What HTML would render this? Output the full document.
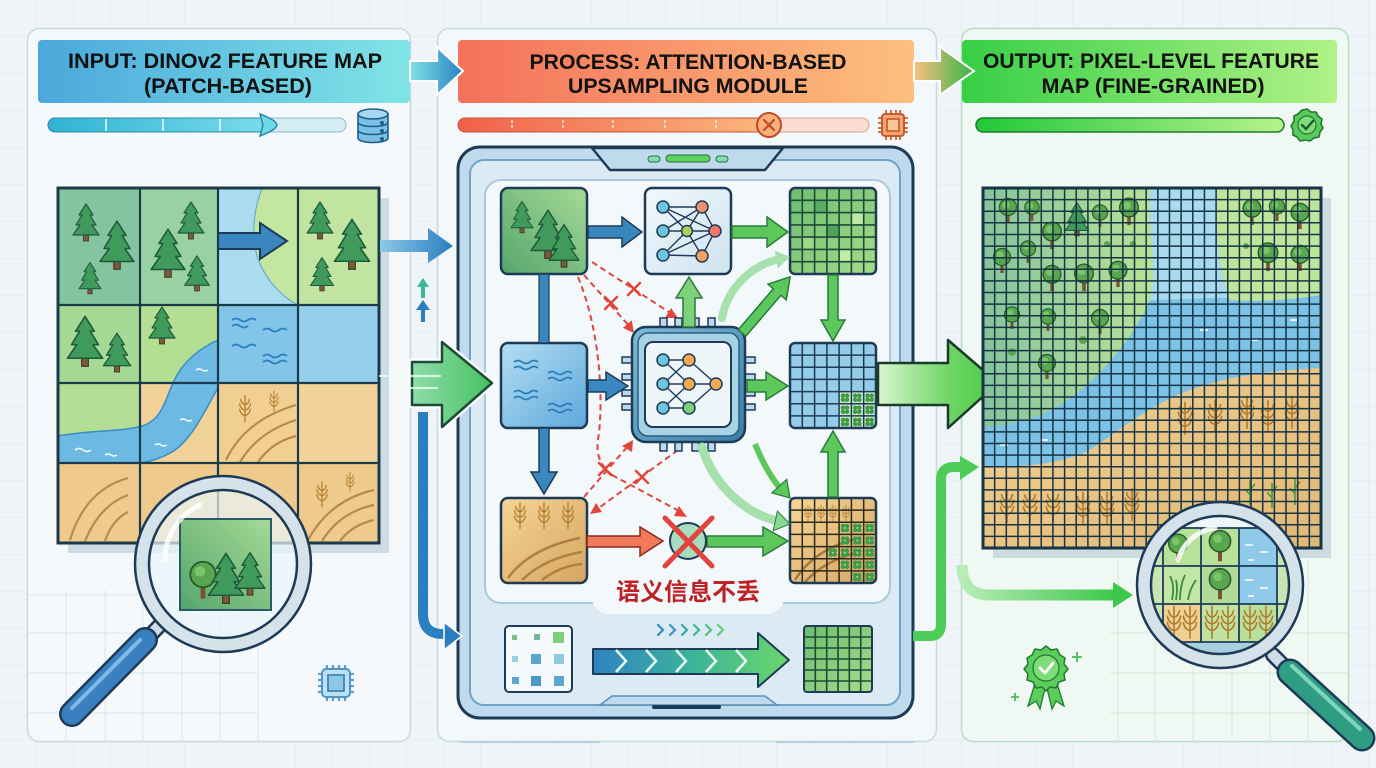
<!DOCTYPE html>
<html><head><meta charset="utf-8">
<style>html,body{margin:0;padding:0;background:#edf3f6;}svg{display:block}</style></head>
<body>
<svg width="1376" height="768" viewBox="0 0 1376 768" xmlns="http://www.w3.org/2000/svg" font-family="'Liberation Sans','Noto Sans CJK SC',sans-serif">
<defs>
 <pattern id="bggrid" width="37" height="37" patternUnits="userSpaceOnUse"><path d="M37,0 V37 M0,37 H37" stroke="#dce8ee" stroke-width="1" fill="none"/></pattern>
 <linearGradient id="hdrL" x1="0" x2="1"><stop offset="0" stop-color="#4aa8dc"/><stop offset="1" stop-color="#80e4e6"/></linearGradient>
 <linearGradient id="hdrM" x1="0" x2="1"><stop offset="0" stop-color="#f4715a"/><stop offset="1" stop-color="#fdbf7e"/></linearGradient>
 <linearGradient id="hdrR" x1="0" x2="1"><stop offset="0" stop-color="#37cf45"/><stop offset="1" stop-color="#b0f286"/></linearGradient>
 <linearGradient id="arLM" x1="0" x2="1"><stop offset="0" stop-color="#80e0e6"/><stop offset="1" stop-color="#2a82c2"/></linearGradient>
 <linearGradient id="arMR" x1="0" x2="1"><stop offset="0" stop-color="#fdbf7e"/><stop offset="1" stop-color="#32b54a"/></linearGradient>
 <linearGradient id="pbL" x1="0" x2="1"><stop offset="0" stop-color="#2fb2d4"/><stop offset="1" stop-color="#7bdceb"/></linearGradient>
 <linearGradient id="pbM" x1="0" x2="1"><stop offset="0" stop-color="#f0604a"/><stop offset="1" stop-color="#fcb87c"/></linearGradient>
 <linearGradient id="pbR" x1="0" x2="1"><stop offset="0" stop-color="#22c838"/><stop offset="1" stop-color="#b8f28c"/></linearGradient>
 <linearGradient id="forestG" x1="0" y1="1" x2="1" y2="0"><stop offset="0" stop-color="#55a56c"/><stop offset="1" stop-color="#a6da96"/></linearGradient>
 <linearGradient id="waterG" x1="0" y1="0" x2="1" y2="1"><stop offset="0" stop-color="#b4def2"/><stop offset="1" stop-color="#5ea8dc"/></linearGradient>
 <linearGradient id="wheatG" x1="0" y1="0" x2="1" y2="1"><stop offset="0" stop-color="#f6d596"/><stop offset="1" stop-color="#d6a560"/></linearGradient>
 <linearGradient id="nnG" x1="0" y1="0" x2="1" y2="1"><stop offset="0" stop-color="#f2f8fc"/><stop offset="1" stop-color="#cfe3ef"/></linearGradient>
 <linearGradient id="chipG" x1="0" y1="0" x2="1" y2="1"><stop offset="0" stop-color="#7dbcd8"/><stop offset="1" stop-color="#3a7ea8"/></linearGradient>
 <linearGradient id="bigG" x1="0" x2="1"><stop offset="0" stop-color="#8fdca8"/><stop offset="1" stop-color="#46c262"/></linearGradient>
 <linearGradient id="bigR" x1="0" x2="1"><stop offset="0" stop-color="#d8f6cf"/><stop offset="0.6" stop-color="#6ed565"/><stop offset="1" stop-color="#46cc46"/></linearGradient>
 <linearGradient id="blueA" x1="0" x2="1"><stop offset="0" stop-color="#8cc8e6"/><stop offset="1" stop-color="#2a7fc0"/></linearGradient>
 <linearGradient id="progA" x1="0" x2="1"><stop offset="0" stop-color="#2f82c2"/><stop offset="0.5" stop-color="#3cb39a"/><stop offset="1" stop-color="#6ad66a"/></linearGradient>
 <linearGradient id="lowG" x1="0" x2="1"><stop offset="0" stop-color="#b8ecb8"/><stop offset="1" stop-color="#3cc84a"/></linearGradient>
 <linearGradient id="speed" x1="0" x2="1"><stop offset="0" stop-color="#3cc07a" stop-opacity="0"/><stop offset="1" stop-color="#3cbf6a"/></linearGradient>
 <linearGradient id="rgGreen" x1="0" x2="1"><stop offset="0" stop-color="#86c49c"/><stop offset="1" stop-color="#b8e196"/></linearGradient>
 <linearGradient id="rgTan" x1="0" y1="0" x2="1" y2="1"><stop offset="0" stop-color="#f0d092"/><stop offset="1" stop-color="#e2b877"/></linearGradient>
 <linearGradient id="greenCell" x1="0" y1="0" x2="1" y2="1"><stop offset="0" stop-color="#6cbd6e"/><stop offset="1" stop-color="#a6dc8a"/></linearGradient>
 <clipPath id="lensL"><circle cx="223" cy="564" r="73"/></clipPath>
 <clipPath id="lensR"><circle cx="1220" cy="585" r="68"/></clipPath>
 <clipPath id="rgClip"><rect x="983" y="188" width="338" height="360"/></clipPath>
 <clipPath id="lgClip"><rect x="58" y="188" width="321" height="355"/></clipPath>
 <g id="pine"><rect x="-2.5" y="-5" width="5" height="6" fill="#7a5a3a" stroke="#3d3020" stroke-width="0.8"/><path d="M0,-36 L-7,-25 L-4,-25 L-10,-15 L-6,-15 L-13,-5 L13,-5 L6,-15 L10,-15 L4,-25 L7,-25 Z" fill="#3f9a5c" stroke="#1f5a3c" stroke-width="1.2" stroke-linejoin="round"/></g>
 <g id="rtree"><rect x="-1.6" y="-10" width="3.2" height="11" fill="#7a5230"/><circle cx="0" cy="-15" r="8.5" fill="#58a64e" stroke="#235a2a" stroke-width="1.2"/><circle cx="-2" cy="-17" r="3.5" fill="#7cc46a"/></g>
 <g id="wheat" fill="none" stroke="#b07a2a" stroke-width="1.4" stroke-linecap="round"><path d="M0,2 V-24"/><path d="M0,-5 q-5,-1 -6,-7 M0,-5 q5,-1 6,-7 M0,-11 q-5,-1 -6,-7 M0,-11 q5,-1 6,-7 M0,-17 q-4,-1 -5,-6 M0,-17 q4,-1 5,-6 M0,-24 l0,-3"/></g>
 <g id="clover"><circle cx="-2" cy="-2" r="2.3" fill="#3f9a4a"/><circle cx="2" cy="-2" r="2.3" fill="#3f9a4a"/><circle cx="-2" cy="2" r="2.3" fill="#3f9a4a"/><circle cx="2" cy="2" r="2.3" fill="#3f9a4a"/><circle cx="0" cy="0" r="1" fill="#a8e08a"/></g>
 <g id="rx"><path d="M-6,-6 L6,6 M6,-6 L-6,6" stroke="#e0463c" stroke-width="2.5" stroke-linecap="round"/></g>
</defs>

<!-- background -->
<rect width="1376" height="768" fill="#eef4f7"/>
<rect width="1376" height="768" fill="url(#bggrid)"/>

<!-- panels -->
<rect x="27.5" y="28.5" width="383" height="713" rx="12" fill="#f5f9fb" stroke="#c7d8e1" stroke-width="1.5"/>
<rect x="437.5" y="28.5" width="499" height="713" rx="12" fill="#f3f8fa" stroke="#c7d8e1" stroke-width="1.5"/>
<rect x="961.5" y="28.5" width="387" height="713" rx="12" fill="#f0f8f3" stroke="#b9dcc6" stroke-width="1.5"/>

<!-- faint grids inside panels -->
<path d="M66,590 V742 M105,590 V742 M143,590 V742 M182,590 V742 M220,590 V742 M258,590 V742 M28,595 H258 M28,633 H258 M28,673 H258 M28,713 H258" stroke="#d9e6ed" stroke-width="1"/>
<path d="M1118,560 V742 M1155,560 V742 M1193,560 V742 M1232,560 V742 M1270,560 V742 M1308,560 V742 M1110,633 H1348 M1110,673 H1348 M1110,713 H1348" stroke="#d3e7da" stroke-width="1"/>
<path d="M460,742 H600 M776,742 H915" stroke="#b8cfdc" stroke-width="2"/>

<!-- HEADERS -->
<rect x="38" y="40" width="372" height="63" rx="4" fill="url(#hdrL)"/>
<text x="225" y="68" text-anchor="middle" font-size="21" font-weight="700" fill="#111" textLength="314" lengthAdjust="spacingAndGlyphs">INPUT: DINOv2 FEATURE MAP</text>
<text x="228" y="93" text-anchor="middle" font-size="21" font-weight="700" fill="#111" textLength="168" lengthAdjust="spacingAndGlyphs">(PATCH-BASED)</text>

<rect x="458" y="40" width="456" height="63" rx="4" fill="url(#hdrM)"/>
<text x="688" y="69" text-anchor="middle" font-size="21" font-weight="700" fill="#111" textLength="317" lengthAdjust="spacingAndGlyphs">PROCESS: ATTENTION-BASED</text>
<text x="688" y="93" text-anchor="middle" font-size="21" font-weight="700" fill="#111" textLength="240" lengthAdjust="spacingAndGlyphs">UPSAMPLING MODULE</text>

<rect x="962" y="40" width="375" height="63" rx="4" fill="url(#hdrR)"/>
<text x="1151" y="68" text-anchor="middle" font-size="21" font-weight="700" fill="#111" textLength="336" lengthAdjust="spacingAndGlyphs">OUTPUT: PIXEL-LEVEL FEATURE</text>
<text x="1153" y="93" text-anchor="middle" font-size="21" font-weight="700" fill="#111" textLength="223" lengthAdjust="spacingAndGlyphs">MAP (FINE-GRAINED)</text>

<!-- header arrows -->
<path d="M410,61 H437 V47 L463,71 L437,95 V81 H410 Z" fill="url(#arLM)" stroke="#ffffff" stroke-width="2"/>
<path d="M914,61 H940 V47 L974,71 L940,95 V81 H914 Z" fill="url(#arMR)" stroke="#ffffff" stroke-width="2"/>

<!-- progress bars -->
<rect x="48" y="118" width="298" height="14" rx="7" fill="#d5ecf3" stroke="#8cbccd" stroke-width="1"/>
<rect x="48" y="118" width="222" height="14" rx="7" fill="url(#pbL)" stroke="#2a8aa8" stroke-width="1"/>
<path d="M106,119 V131 M163,119 V131 M220,119 V131" stroke="#e8fbff" stroke-width="1.5"/>
<path d="M260,114 C270,118 276,121 277,125 C276,129 270,132 260,136 L263,125 Z" fill="#6fd8e8" stroke="#2a8aa8" stroke-width="1.5"/>
<g transform="translate(373,110)" stroke="#1d5f8a" stroke-width="1.6" fill="#7cc0e4">
 <path d="M-15,4 V28 C-15,34 15,34 15,28 V4"/>
 <ellipse cx="0" cy="4" rx="15" ry="5" fill="#a8d8f0"/>
 <path d="M-15,12 C-15,18 15,18 15,12 M-15,20 C-15,26 15,26 15,20" fill="none"/>
 <circle cx="9" cy="13" r="1.2" fill="#1d5f8a"/><circle cx="9" cy="21" r="1.2" fill="#1d5f8a"/><circle cx="9" cy="29" r="1.2" fill="#1d5f8a"/>
</g>

<rect x="458" y="118" width="411" height="14" rx="7" fill="#f9ddd0" stroke="#d9a08a" stroke-width="1"/>
<rect x="458" y="118" width="312" height="14" rx="7" fill="url(#pbM)" stroke="#c8553a" stroke-width="1"/>
<path d="M512,120 V130 M563,120 V130 M613,120 V130 M665,120 V130 M716,120 V130" stroke="#ffe8dc" stroke-width="1.5" stroke-dasharray="3 2"/>
<circle cx="769" cy="125" r="12" fill="#fbb07c" stroke="#c04a2a" stroke-width="2"/>
<path d="M764,120 L774,130 M774,120 L764,130" stroke="#c04a2a" stroke-width="2.2" stroke-linecap="round"/>
<g transform="translate(893,125)">
 <path d="M-7,-15 V-11 M-2,-15 V-11 M3,-15 V-11 M7,-15 V-11 M-7,11 V15 M-2,11 V15 M3,11 V15 M7,11 V15 M-15,-7 H-11 M-15,-2 H-11 M-15,3 H-11 M-15,7 H-11 M11,-7 H15 M11,-2 H15 M11,3 H15 M11,7 H15" stroke="#d0602e" stroke-width="1.8"/>
 <rect x="-11" y="-11" width="22" height="22" rx="3" fill="#f6a570" stroke="#c0502a" stroke-width="1.8"/>
 <rect x="-6" y="-6" width="12" height="12" fill="#f9c69a" stroke="#c0502a" stroke-width="1.5"/>
</g>

<rect x="976" y="118" width="308" height="14" rx="7" fill="url(#pbR)" stroke="#1e7a30" stroke-width="1.5"/>
<g transform="translate(1307,125)">
 <path d="M0,-16 L4,-13 L9,-13 L11,-9 L15,-6 L14,-1 L16,3 L13,7 L12,12 L7,13 L3,16 L-2,15 L-7,16 L-10,12 L-14,10 L-14,5 L-16,1 L-13,-4 L-13,-9 L-9,-11 L-5,-15 Z" fill="#58c95a" stroke="#237a33" stroke-width="1.6" stroke-linejoin="round"/>
 <circle r="9" fill="#7fdc78" stroke="#237a33" stroke-width="1.2"/>
 <path d="M-5,0 L-1,4 L6,-4" fill="none" stroke="#1d5a2a" stroke-width="2.4" stroke-linecap="round" stroke-linejoin="round"/>
</g>

<!-- LEFT GRID -->
<rect x="68" y="198" width="321" height="355" fill="#cddce5"/>
<g clip-path="url(#lgClip)">
 <rect x="58" y="188" width="82" height="117" fill="#86c3a0"/>
 <rect x="140" y="188" width="78" height="117" fill="#9ad1a2"/>
 <rect x="218" y="188" width="80" height="117" fill="#a9dcef"/>
 <path d="M262,188 C252,215 250,245 262,268 C272,288 288,300 298,305 L298,188 Z" fill="#c3e6a0" stroke="#6aa9c9" stroke-width="1.2"/>
 <rect x="298" y="188" width="81" height="117" fill="#c1e5a1"/>
 <rect x="58" y="305" width="82" height="78" fill="#a6d993"/>
 <rect x="140" y="305" width="78" height="78" fill="#b4df93"/>
 <rect x="218" y="305" width="80" height="78" fill="#82c5e8"/>
 <rect x="298" y="305" width="81" height="78" fill="#96d1ec"/>
 <rect x="58" y="383" width="82" height="80" fill="#b3de94"/>
 <rect x="140" y="383" width="78" height="80" fill="#f0d197"/>
 <rect x="218" y="383" width="80" height="80" fill="#f1cf93"/>
 <rect x="298" y="383" width="81" height="80" fill="#f2d49b"/>
 <rect x="58" y="463" width="321" height="80" fill="#eecb8d"/>
 <path d="M58,436 C90,430 120,432 142,426 C162,420 165,400 173,383 C182,362 200,348 218,340 L218,388 C205,410 192,440 172,452 C158,460 148,462 140,463 L58,463 Z" fill="#6cb9e4" stroke="#3a8cc4" stroke-width="1.5"/>
 <path d="M75,450 q4,-3 8,0 t8,0 M105,455 q3,-2 6,0 t6,0 M155,445 q3,-2 6,0 t6,0 M180,420 q3,-2 6,0 t6,0 M196,370 q3,-2 6,0 t6,0" stroke="#e8f6ff" stroke-width="1.6" fill="none"/>
 <g stroke="#2a7fbf" stroke-width="1.8" fill="none">
  <path d="M232,320 q4,-3 8,0 t8,0 t8,0"/><path d="M263,330 q4,-3 8,0 t8,0 t8,0"/>
  <path d="M232,346 q4,-3 8,0 t8,0 t8,0"/><path d="M263,356 q4,-3 8,0 t8,0 t8,0"/>
  <path d="M232,326 q4,-3 8,0 t8,0"/><path d="M263,362 q4,-3 8,0 t8,0 t8,0"/>
 </g>
 <g stroke="#b98a4a" stroke-width="2.2" fill="none">
  <path d="M226,460 Q245,420 296,405"/><path d="M240,462 Q258,432 296,420"/><path d="M258,462 Q272,442 296,436"/>
  <path d="M70,540 Q85,490 128,478"/><path d="M85,541 Q100,505 128,495"/><path d="M105,541 Q112,520 128,512"/>
  <path d="M308,540 Q330,500 374,490"/><path d="M322,541 Q340,512 374,505"/><path d="M340,541 Q352,525 374,520"/>
 </g>
 <use href="#wheat" transform="translate(245,420) scale(0.9)"/>
 <use href="#wheat" transform="translate(274,410) scale(0.7)"/>
 <use href="#wheat" transform="translate(322,505) scale(0.85)"/>
 <use href="#wheat" transform="translate(350,490) scale(0.65)"/>
 <use href="#pine" transform="translate(86,240)"/>
 <use href="#pine" transform="translate(117,268) scale(1.3)"/>
 <use href="#pine" transform="translate(90,293) scale(0.85)"/>
 <use href="#pine" transform="translate(191,238)"/>
 <use href="#pine" transform="translate(168,276) scale(1.3)"/>
 <use href="#pine" transform="translate(197,290) scale(0.95)"/>
 <use href="#pine" transform="translate(320,238)"/>
 <use href="#pine" transform="translate(352,268) scale(1.35)"/>
 <use href="#pine" transform="translate(322,290) scale(0.9)"/>
 <use href="#pine" transform="translate(85,365) scale(1.35)"/>
 <use href="#pine" transform="translate(117,371) scale(1.05)"/>
 <use href="#pine" transform="translate(162,343)"/>
 <path d="M218,233 H260 V223 L287,241 L260,259 V249 H218 Z" fill="#3a86c0" stroke="#1d3b57" stroke-width="2"/>
</g>
<path d="M58,305 H379 M58,383 H379 M58,463 H379 M140,188 V543 M218,188 V543 M298,188 V543" stroke="#1c3a4a" stroke-width="2.2"/>
<rect x="58" y="188" width="321" height="355" fill="none" stroke="#1c3a4a" stroke-width="3"/>

<!-- left magnifier -->
<line x1="163" y1="622" x2="140" y2="646" stroke="#1d3b57" stroke-width="16" stroke-linecap="round"/>
<line x1="163" y1="622" x2="140" y2="646" stroke="#cfdce6" stroke-width="11" stroke-linecap="round"/>
<line x1="145" y1="640" x2="72" y2="714" stroke="#1d3b57" stroke-width="26" stroke-linecap="round"/>
<line x1="145" y1="640" x2="72" y2="714" stroke="#3a7fc0" stroke-width="21" stroke-linecap="round"/>
<line x1="140" y1="640" x2="72" y2="708" stroke="#7fb8e6" stroke-width="4" stroke-linecap="round"/>
<circle cx="223" cy="564" r="73" fill="#eaf5f9" fill-opacity="0.7"/>
<g clip-path="url(#lensL)">
 <rect x="180" y="519" width="91" height="91" fill="url(#forestG)" stroke="#2a5a6a" stroke-width="2"/>
 <use href="#rtree" transform="translate(203,597) scale(1.5)"/>
 <use href="#pine" transform="translate(226,602) scale(1.35)"/>
 <use href="#pine" transform="translate(250,594) scale(1.15)"/>
</g>
<circle cx="223" cy="564" r="81" fill="none" stroke="#d5e2ea" stroke-width="14"/>
<circle cx="223" cy="564" r="88" fill="none" stroke="#1d3b57" stroke-width="2.5"/>
<circle cx="223" cy="564" r="74" fill="none" stroke="#1d3b57" stroke-width="2.5"/>
<path d="M165,560 A60,60 0 0 1 200,505" stroke="#ffffff" stroke-width="5" fill="none" stroke-opacity="0.8" stroke-linecap="round"/>

<!-- left chip icon -->
<g transform="translate(336,683)">
 <path d="M-9,-18 V-13 M-3,-18 V-13 M3,-18 V-13 M9,-18 V-13 M-9,13 V18 M-3,13 V18 M3,13 V18 M9,13 V18 M-18,-9 H-13 M-18,-3 H-13 M-18,3 H-13 M-18,9 H-13 M13,-9 H18 M13,-3 H18 M13,3 H18 M13,9 H18" stroke="#5a9ccb" stroke-width="2.2"/>
 <rect x="-14" y="-14" width="28" height="28" rx="4" fill="#bfe0f2" stroke="#4f95c5" stroke-width="2"/>
 <rect x="-8" y="-8" width="16" height="16" fill="#8fc8e8" stroke="#3d85b8" stroke-width="1.8"/>
</g>

<!-- small arrows between left & middle -->
<path d="M423,278 L417,287 H421 V298 H425 V287 H429 Z" fill="#3cb89a"/>
<path d="M423,300 L416,310 H421 V322 H425 V310 H430 Z" fill="#2a7fc0"/>

<!-- TABLET -->
<rect x="458" y="147" width="455" height="571" rx="22" fill="#bfdaec" stroke="#1d3b57" stroke-width="3"/>
<rect x="470" y="160" width="430" height="545" rx="14" fill="#dceaf3" stroke="#6fa3c8" stroke-width="2"/>
<path d="M592,148 L610,170 H765 L783,148 Z" fill="#bfdaec" stroke="#1d3b57" stroke-width="2.5" stroke-linejoin="round"/>
<rect x="648" y="156" width="12" height="6" rx="3" fill="#7fe0b0" stroke="#2a6a5a" stroke-width="1"/>
<rect x="666" y="155" width="44" height="7" rx="3.5" fill="#5dd35d" stroke="#2a6a3a" stroke-width="1"/>
<rect x="716" y="156" width="12" height="6" rx="3" fill="#7fe0b0" stroke="#2a6a5a" stroke-width="1"/>
<path d="M600,705 L612,696 H765 L777,705 Z" fill="#bfdaec" stroke="#5b8fb5" stroke-width="1.5"/>
<rect x="652" y="705" width="69" height="4" rx="2" fill="#1d3b57"/>
<rect x="485" y="180" width="405" height="423" rx="16" fill="#f3f8fb" stroke="#a9c9dc" stroke-width="2"/>
<rect x="592" y="560" width="192" height="54" rx="16" fill="#f3f8fb"/>

<!-- arrows entering tablet from left (drawn on top) -->
<path d="M380,240 H428 V228 L453,246 L428,263 V252 H380 Z" fill="url(#blueA)"/>
<g stroke="url(#speed)" stroke-width="3" stroke-linecap="round">
 <path d="M350,363 H430"/><path d="M360,373 H440"/><path d="M345,383 H440"/><path d="M355,393 H440"/><path d="M348,404 H430"/>
</g>
<path d="M412,362 H442 V342 L492,383 L442,427 V405 H412 Z" fill="none" stroke="#ffffff" stroke-width="7" stroke-linejoin="round"/>
<path d="M412,362 H442 V342 L492,383 L442,427 V405 H412 Z" fill="url(#bigG)" stroke="#1d4a3a" stroke-width="2.5" stroke-linejoin="round"/>
<path d="M380,376 H440 M390,388 H437" stroke="#e8fff0" stroke-width="2.2" stroke-linecap="round" opacity="0.8"/>
<path d="M423,412 V614 Q423,634 443,634 H448" fill="none" stroke="#2a7fc0" stroke-width="10"/>
<path d="M444,622 L462,636 L444,650 Z" fill="#2a7fc0" stroke="#ffffff" stroke-width="1.5"/>

<!-- forest tile -->
<rect x="501" y="188" width="86" height="86" rx="7" fill="url(#forestG)" stroke="#1d3b57" stroke-width="2.5"/>
<use href="#pine" transform="translate(522,232) scale(0.85)"/>
<use href="#pine" transform="translate(548,257) scale(1.3)"/>
<use href="#pine" transform="translate(564,266) scale(1.15)"/>
<!-- water tile -->
<rect x="501" y="343" width="86" height="85" rx="7" fill="url(#waterG)" stroke="#1d3b57" stroke-width="2.5"/>
<g stroke="#2a7fbf" stroke-width="1.8" fill="none">
 <path d="M514,362 q4,-3 8,0 t8,0 t8,0"/><path d="M514,368 q4,-3 8,0 t8,0 t8,0"/>
 <path d="M548,373 q4,-3 8,0 t8,0 t8,0"/><path d="M548,379 q4,-3 8,0 t8,0 t8,0"/>
 <path d="M514,392 q4,-3 8,0 t8,0 t8,0"/><path d="M514,398 q4,-3 8,0 t8,0 t8,0"/>
 <path d="M548,405 q4,-3 8,0 t8,0 t8,0"/><path d="M548,411 q4,-3 8,0 t8,0 t8,0"/>
</g>
<!-- wheat tile -->
<rect x="501" y="498" width="86" height="85" rx="7" fill="url(#wheatG)" stroke="#1d3b57" stroke-width="2.5"/>
<use href="#wheat" transform="translate(520,527) scale(0.9)"/>
<use href="#wheat" transform="translate(544,527) scale(0.9)"/>
<use href="#wheat" transform="translate(568,527) scale(0.9)"/>
<g stroke="#b08040" stroke-width="2.5" fill="none">
 <path d="M508,578 Q530,548 580,538"/><path d="M522,580 Q545,558 582,552"/><path d="M542,580 Q560,566 582,564"/>
</g>

<!-- NN box -->
<rect x="645" y="188" width="86" height="86" rx="7" fill="url(#nnG)" stroke="#1d3b57" stroke-width="2.5"/>
<g stroke="#1d3b57" stroke-width="1.4">
 <path d="M663,207 L687,231 M663,231 L687,231 M663,255 L687,231 M663,207 L702,207 M663,207 L715,231 M663,231 L702,207 M663,255 L702,256 M663,255 L715,231 M687,231 L702,207 M687,231 L715,231 M687,231 L702,256 M702,207 L715,231 M702,256 L715,231"/>
</g>
<g stroke="#1d3b57" stroke-width="1.5">
 <circle cx="663" cy="207" r="6" fill="#6cc4e0"/><circle cx="663" cy="231" r="6" fill="#6cc4e0"/><circle cx="663" cy="255" r="6" fill="#6cc4e0"/>
 <circle cx="687" cy="231" r="5.5" fill="#a8d060"/>
 <circle cx="702" cy="207" r="6" fill="#f0906a"/><circle cx="715" cy="231" r="6" fill="#f07868"/><circle cx="702" cy="256" r="6" fill="#f4a060"/>
</g>

<!-- Green grid top right -->
<rect x="790" y="188" width="86" height="86" rx="5" fill="url(#greenCell)"/>
<rect x="814.6" y="200.3" width="12.3" height="12.3" fill="#5aae62"/><rect x="851.4" y="212.6" width="12.3" height="12.3" fill="#bfe8a0"/><rect x="802.3" y="237.1" width="12.3" height="12.3" fill="#9ed884"/><rect x="839.1" y="249.4" width="12.3" height="12.3" fill="#c4ec9e"/><rect x="826.9" y="224.9" width="12.3" height="12.3" fill="#4fa25a"/>
<path d="M802.3,188 V274 M814.6,188 V274 M826.9,188 V274 M839.1,188 V274 M851.4,188 V274 M863.7,188 V274 M790,200.3 H876 M790,212.6 H876 M790,224.9 H876 M790,237.1 H876 M790,249.4 H876 M790,261.7 H876" stroke="#1d4a3a" stroke-width="1.6"/>
<rect x="790" y="188" width="86" height="86" rx="5" fill="none" stroke="#1d3b57" stroke-width="2.5"/>

<!-- Blue grid -->
<rect x="790" y="343" width="86" height="85" rx="5" fill="#95cde8"/>
<rect x="839" y="391.6" width="37" height="36.4" fill="#cfe9c8"/>
<use href="#clover" transform="translate(845,397.7)"/><use href="#clover" transform="translate(857.3,397.7)"/><use href="#clover" transform="translate(869.6,397.7)"/>
<use href="#clover" transform="translate(845,409.8)"/><use href="#clover" transform="translate(857.3,409.8)"/><use href="#clover" transform="translate(869.6,409.8)"/>
<use href="#clover" transform="translate(845,422)"/><use href="#clover" transform="translate(857.3,422)"/><use href="#clover" transform="translate(869.6,422)"/>
<path d="M802.3,343 V428 M814.6,343 V428 M826.9,343 V428 M839.1,343 V428 M851.4,343 V428 M863.7,343 V428 M790,355.1 H876 M790,367.3 H876 M790,379.4 H876 M790,391.6 H876 M790,403.7 H876 M790,415.9 H876" stroke="#1d3b57" stroke-width="1.5"/>
<rect x="790" y="343" width="86" height="85" rx="5" fill="none" stroke="#1d3b57" stroke-width="2.5"/>

<!-- Mixed grid -->
<rect x="790" y="498" width="86" height="85" rx="5" fill="url(#wheatG)"/>
<path d="M795,580 Q815,548 860,538 M805,582 Q825,560 860,552" stroke="#a87a3a" stroke-width="2.5" fill="none"/>
<use href="#wheat" transform="translate(808,520) scale(0.55)"/><use href="#wheat" transform="translate(821,520) scale(0.55)"/><use href="#wheat" transform="translate(833,520) scale(0.55)"/><use href="#wheat" transform="translate(846,520) scale(0.55)"/>
<use href="#clover" transform="translate(845,528)"/><use href="#clover" transform="translate(857.3,528)"/><use href="#clover" transform="translate(869.6,528)"/>
<use href="#clover" transform="translate(845,540.5)"/><use href="#clover" transform="translate(857.3,540.5)"/><use href="#clover" transform="translate(869.6,540.5)"/>
<use href="#clover" transform="translate(832.7,552.6)"/><use href="#clover" transform="translate(845,552.6)"/><use href="#clover" transform="translate(857.3,552.6)"/><use href="#clover" transform="translate(869.6,552.6)"/>
<use href="#clover" transform="translate(845,564.8)"/><use href="#clover" transform="translate(857.3,564.8)"/><use href="#clover" transform="translate(869.6,564.8)"/>
<use href="#clover" transform="translate(857.3,577)"/><use href="#clover" transform="translate(869.6,577)"/>
<path d="M802.3,498 V583 M814.6,498 V583 M826.9,498 V583 M839.1,498 V583 M851.4,498 V583 M863.7,498 V583 M790,510.1 H876 M790,522.3 H876 M790,534.4 H876 M790,546.6 H876 M790,558.7 H876 M790,570.9 H876" stroke="#2a2a1a" stroke-width="1.5"/>
<rect x="790" y="498" width="86" height="85" rx="5" fill="none" stroke="#1d3b57" stroke-width="2.5"/>

<!-- red dashed lines -->
<g stroke="#e0463c" stroke-width="2" stroke-dasharray="6 4" fill="none">
 <path d="M592,262 L672,314"/>
 <path d="M584,275 L630,327"/>
 <path d="M578,277 C600,330 604,400 598,440 C596,455 600,465 612,475"/>
 <path d="M612,475 L681,512"/>
 <path d="M678,450 L596,510"/>
 <path d="M584,497 L628,446"/>
</g>
<path d="M678,318 L665,318 L671,308 Z" fill="#e0463c"/>
<path d="M634,333 L624,326 L634,320 Z" fill="#e0463c" transform="rotate(-10 634 333)"/>
<path d="M687,517 L674,516 L679,506 Z" fill="#e0463c"/>
<path d="M590,514 L596,503 L602,512 Z" fill="#e0463c"/>
<path d="M633,440 L632,452 L622,446 Z" fill="#e0463c"/>
<use href="#rx" transform="translate(634,289)"/>
<use href="#rx" transform="translate(611,303)"/>
<use href="#rx" transform="translate(605,469)"/>
<use href="#rx" transform="translate(642,477)"/>

<!-- CHIP -->
<g stroke="#1d3b57" stroke-width="1.5" fill="#bfdaec">
 <rect x="660" y="318" width="7" height="10"/><rect x="675" y="318" width="7" height="10"/><rect x="692" y="318" width="7" height="10"/><rect x="708" y="318" width="7" height="10"/>
 <rect x="660" y="441" width="7" height="10"/><rect x="675" y="441" width="7" height="10"/><rect x="692" y="441" width="7" height="10"/><rect x="708" y="441" width="7" height="10"/>
 <rect x="622" y="357" width="11" height="6"/><rect x="622" y="374" width="11" height="6"/><rect x="622" y="390" width="11" height="6"/><rect x="622" y="404" width="11" height="6"/>
 <rect x="744" y="357" width="11" height="6"/><rect x="744" y="374" width="11" height="6"/><rect x="744" y="390" width="11" height="6"/><rect x="744" y="404" width="11" height="6"/>
</g>
<rect x="632" y="327" width="113" height="115" rx="14" fill="url(#chipG)" stroke="#1d3b57" stroke-width="2.5"/>
<rect x="638" y="333" width="101" height="103" rx="10" fill="#a8d2e6" stroke="#2a5f80" stroke-width="1.5"/>
<rect x="645" y="342" width="86" height="85" rx="8" fill="#eef6fa" stroke="#1d3b57" stroke-width="2"/>
<g stroke="#1d3b57" stroke-width="1.4">
 <path d="M663,360 L689,360 M663,360 L689,384 M663,384 L689,360 M663,384 L689,384 M663,384 L689,408 M663,408 L689,384 M663,408 L689,408 M689,360 L716,384 M689,384 L716,384 M689,408 L716,384"/>
</g>
<g stroke="#1d3b57" stroke-width="1.5">
 <circle cx="663" cy="360" r="6" fill="#6cc4e0"/><circle cx="663" cy="384" r="6" fill="#6cc4e0"/><circle cx="663" cy="408" r="6" fill="#6cc4e0"/>
 <circle cx="689" cy="360" r="6" fill="#f4a850"/><circle cx="689" cy="384" r="6" fill="#f4a850"/><circle cx="689" cy="408" r="6" fill="#7cd07a"/>
 <circle cx="716" cy="384" r="6" fill="#f4a850"/>
</g>

<!-- arrows in tablet -->
<rect x="539" y="274" width="10" height="69" fill="#3a86c0" stroke="#1d3b57" stroke-width="1.2"/>
<path d="M588,226 H622 V217 L642,232 L622,247 V238 H588 Z" fill="#3a86c0" stroke="#1d3b57" stroke-width="1.5"/>
<path d="M588,380 H606 V372 L628,386 L606,400 V392 H588 Z" fill="#3a86c0" stroke="#1d3b57" stroke-width="1.5"/>
<path d="M539,428 H549 V472 H557 L544,494 L531,472 H539 Z" fill="#3a86c0" stroke="#1d3b57" stroke-width="1.5"/>
<path d="M732,226 H767 V217 L788,232 L767,247 V238 H732 Z" fill="#5cc85c" stroke="#2a7a3a" stroke-width="1.5"/>
<path d="M683,327 V298 H676 L689,277 L702,298 H695 V327 Z" fill="#7fd07a" stroke="#2a7a3a" stroke-width="1.5"/>
<path d="M747,380 H766 V372 L788,386 L766,400 V392 H747 Z" fill="#5cc85c" stroke="#2a7a3a" stroke-width="1.5"/>
<path d="M828,275 H838 V320 H845 L833,341 L821,320 H828 Z" fill="#5cc85c" stroke="#2a7a3a" stroke-width="1.5"/>
<path d="M828,497 V452 H821 L833,431 L845,452 H838 V497 Z" fill="#5cc85c" stroke="#2a7a3a" stroke-width="1.5"/>
<path d="M707,536 H763 V527 L788,541 L763,556 V547 H707 Z" fill="#5cc85c" stroke="#2a7a3a" stroke-width="1.5"/>
<path d="M587,536 H640 V527 L663,541 L640,556 V547 H587 Z" fill="#f07a5a" stroke="#8a2a1a" stroke-width="1.5"/>
<g transform="translate(742,333) rotate(-49.4)"><path d="M0,-5 H54 V-12 L74,0 L54,12 V5 H0 Z" fill="#5cc85c" stroke="#2a7a3a" stroke-width="1.5"/></g>
<path d="M722,318 C728,285 755,264 780,259" stroke="#a6e0ac" stroke-width="8" fill="none" stroke-linecap="round"/>
<g transform="translate(790,257) rotate(-10)"><path d="M0,0 L-14,-9 L-14,9 Z" fill="#a6e0ac"/></g>
<path d="M702,447 C715,490 750,515 778,521" stroke="#a6e0ac" stroke-width="9" fill="none" stroke-linecap="round"/>
<g transform="translate(790,524) rotate(12)"><path d="M0,0 L-15,-10 L-15,10 Z" fill="#8ad894" stroke="#2a7a3a" stroke-width="1"/></g>
<path d="M755,444 C765,468 773,480 780,488" stroke="#5cc85c" stroke-width="6" fill="none"/>
<g transform="translate(790,498) rotate(48)"><path d="M0,0 L-16,-10 L-16,10 Z" fill="#5cc85c" stroke="#2a7a3a" stroke-width="1.2"/></g>

<!-- crossed circle -->
<circle cx="688" cy="541" r="18" fill="#a8dcc0" stroke="#1d3b57" stroke-width="2"/>
<path d="M665,518 L712,566 M712,518 L665,566" stroke="#e0443c" stroke-width="5" stroke-linecap="round"/>
<text x="688" y="600" text-anchor="middle" font-size="24" font-weight="700" fill="#bf2226" font-family="'Liberation Sans','Noto Sans CJK SC',sans-serif">语义信息不丢</text>

<!-- bottom strip -->
<rect x="505" y="626" width="67" height="66" rx="4" fill="#f5fafc" stroke="#1d3b57" stroke-width="2"/>
<rect x="512" y="635" width="5" height="5" fill="#7fc08a"/><rect x="534" y="634" width="6" height="6" fill="#6fb89a"/><rect x="553" y="632" width="11" height="11" fill="#7fd07a"/>
<rect x="512" y="656" width="6" height="6" fill="#9acde0"/><rect x="531" y="654" width="10" height="10" fill="#5aa8d0"/><rect x="554" y="654" width="10" height="10" fill="#8ccae0"/>
<rect x="512" y="677" width="7" height="7" fill="#5aa8d0"/><rect x="531" y="676" width="10" height="10" fill="#4a9ac8"/><rect x="554" y="676" width="10" height="10" fill="#5aa8d0"/>
<path d="M593,649 H758 V633 L789,660 L758,687 V674 H593 Z" fill="url(#progA)" stroke="#1d3b57" stroke-width="2" stroke-linejoin="round"/>
<g stroke="#e8fbf5" stroke-width="2.5" fill="none">
 <path d="M616,650 L626,661 L616,672"/><path d="M646,650 L656,661 L646,672"/><path d="M676,650 L686,661 L676,672"/><path d="M706,650 L716,661 L706,672"/><path d="M736,650 L746,661 L736,672"/>
</g>
<g stroke-width="2.2" fill="none" stroke-linecap="round">
 <path d="M658,625 L663,630 L658,635" stroke="#3a8ac0"/><path d="M670,625 L675,630 L670,635" stroke="#3a9ab8"/><path d="M682,625 L687,630 L682,635" stroke="#3aaaa8"/><path d="M694,625 L699,630 L694,635" stroke="#40b898"/><path d="M706,625 L711,630 L706,635" stroke="#50c488"/><path d="M718,625 L723,630 L718,635" stroke="#60cc78"/>
</g>
<rect x="804" y="626" width="68" height="66" rx="3" fill="url(#greenCell)"/>
<path d="M815.3,626 V692 M826.7,626 V692 M838,626 V692 M849.3,626 V692 M860.7,626 V692 M804,637 H872 M804,648 H872 M804,659 H872 M804,670 H872 M804,681 H872" stroke="#1d4a3a" stroke-width="1.6"/>
<rect x="804" y="626" width="68" height="66" rx="3" fill="none" stroke="#1d3b57" stroke-width="2"/>

<!-- right side arrows -->
<path d="M878,363 H948 V340 L998,383 L948,428 V405 H878 Z" fill="url(#bigR)" stroke="#1a3a2a" stroke-width="2.5" stroke-linejoin="round"/>
<path d="M913,636 H930 Q941,636 941,624 V480 Q941,467 954,467 H962" fill="none" stroke="#4dcc5a" stroke-width="10"/>
<path d="M960,456 L979,467 L960,480 Z" fill="#4dcc5a"/>
<path d="M962,565 Q962,595 990,595 H1115" fill="none" stroke="url(#lowG)" stroke-width="11"/>
<path d="M1113,582 L1133,595 L1113,608 Z" fill="#3cc84a"/>

<!-- RIGHT GRID -->
<rect x="993" y="198" width="338" height="360" fill="#cbdbe0"/>
<g clip-path="url(#rgClip)">
 <rect x="983" y="188" width="338" height="360" fill="#a9daef"/>
 <path d="M983,428 C1010,425 1040,418 1060,405 C1090,385 1130,330 1150,300 L1321,295 L1321,368 C1280,370 1230,375 1190,390 C1150,405 1120,430 1090,450 C1060,465 1020,467 983,467 Z" fill="#7cc2e7"/>
 <path d="M983,188 H1150 C1148,230 1158,265 1150,300 C1135,335 1100,380 1060,405 C1040,418 1010,425 983,428 Z" fill="url(#rgGreen)"/>
 <path d="M1215,188 H1321 V295 C1290,300 1260,302 1230,300 C1222,280 1215,240 1215,188 Z" fill="#bfe49c"/>
 <path d="M983,467 C1020,467 1060,465 1090,450 C1120,430 1150,405 1190,390 C1230,375 1280,370 1321,368 V548 H983 Z" fill="url(#rgTan)"/>
 <path d="M1000,445 h8 M1040,440 h8 M1100,420 h8 M1150,385 h8 M1200,330 h8 M1250,340 h8 M1290,320 h8" stroke="#e8f6ff" stroke-width="2"/>
 <use href="#rtree" transform="translate(1008,222)"/><use href="#rtree" transform="translate(1032,220) scale(0.85)"/><use href="#pine" transform="translate(1077,235) scale(0.9)"/>
 <use href="#rtree" transform="translate(1100,226) scale(0.9)"/><use href="#rtree" transform="translate(1129,224) scale(1.1)"/>
 <use href="#rtree" transform="translate(1252,224) scale(1.05)"/><use href="#rtree" transform="translate(1277,220) scale(0.9)"/><use href="#rtree" transform="translate(1300,228) scale(1.05)"/>
 <use href="#rtree" transform="translate(1052,248) scale(1.1)"/><use href="#rtree" transform="translate(1028,262) scale(0.9)"/><use href="#rtree" transform="translate(1002,272) scale(1)"/>
 <use href="#rtree" transform="translate(1052,290) scale(1.05)"/><use href="#rtree" transform="translate(1084,290) scale(1.1)"/><use href="#rtree" transform="translate(1118,286) scale(1.05)"/>
 <use href="#rtree" transform="translate(1268,270) scale(1.15)"/><use href="#rtree" transform="translate(1300,270) scale(1.05)"/>
 <use href="#rtree" transform="translate(1012,328) scale(0.9)"/><use href="#rtree" transform="translate(1048,330) scale(0.9)"/><use href="#rtree" transform="translate(1100,333) scale(1)"/>
 <use href="#rtree" transform="translate(1047,378) scale(1)"/>
 <circle cx="1107" cy="244" r="3" fill="#5aa650"/><circle cx="1133" cy="244" r="3" fill="#5aa650"/><circle cx="1246" cy="246" r="3" fill="#5aa650"/><circle cx="1012" cy="352" r="4" fill="#5aa650"/><circle cx="1083" cy="340" r="4" fill="#5aa650"/>
 <use href="#wheat" transform="translate(1185,432) scale(1.1)"/><use href="#wheat" transform="translate(1215,430) scale(1.1)"/><use href="#wheat" transform="translate(1247,426) scale(1.1)"/><use href="#wheat" transform="translate(1268,430) scale(1.1)"/><use href="#wheat" transform="translate(1292,426) scale(1.1)"/>
 <use href="#wheat" transform="translate(1007,520) scale(1.1)"/><use href="#wheat" transform="translate(1030,520) scale(1.1)"/><use href="#wheat" transform="translate(1053,520) scale(1.1)"/><use href="#wheat" transform="translate(1083,522) scale(1.1)"/><use href="#wheat" transform="translate(1107,522) scale(1.1)"/><use href="#wheat" transform="translate(1132,518) scale(1.1)"/>
 <g stroke="#4a9a4a" stroke-width="1.6" fill="none"><path d="M1250,505 V480 M1250,495 l-5,-6 M1250,490 l5,-6 M1272,508 V483 M1272,498 l-5,-6 M1272,492 l5,-6 M1295,505 V478 M1295,494 l-5,-6 M1295,488 l5,-6"/></g>
</g>
<path d="M994.66,188 V548 M1006.31,188 V548 M1017.97,188 V548 M1029.62,188 V548 M1041.28,188 V548 M1052.93,188 V548 M1064.59,188 V548 M1076.24,188 V548 M1087.9,188 V548 M1099.55,188 V548 M1111.21,188 V548 M1122.86,188 V548 M1134.52,188 V548 M1146.17,188 V548 M1157.83,188 V548 M1169.48,188 V548 M1181.14,188 V548 M1192.79,188 V548 M1204.45,188 V548 M1216.1,188 V548 M1227.76,188 V548 M1239.41,188 V548 M1251.07,188 V548 M1262.72,188 V548 M1274.38,188 V548 M1286.03,188 V548 M1297.69,188 V548 M1309.34,188 V548 M983,199.6 H1321 M983,211.2 H1321 M983,222.8 H1321 M983,234.5 H1321 M983,246.1 H1321 M983,257.7 H1321 M983,269.3 H1321 M983,280.9 H1321 M983,292.5 H1321 M983,304.1 H1321 M983,315.7 H1321 M983,327.4 H1321 M983,339 H1321 M983,350.6 H1321 M983,362.2 H1321 M983,373.8 H1321 M983,385.4 H1321 M983,397 H1321 M983,408.6 H1321 M983,420.3 H1321 M983,431.9 H1321 M983,443.5 H1321 M983,455.1 H1321 M983,466.7 H1321 M983,478.3 H1321 M983,489.9 H1321 M983,501.5 H1321 M983,513.2 H1321 M983,524.8 H1321 M983,536.4 H1321" stroke="#163443" stroke-width="1.5"/>
<rect x="983" y="188" width="338" height="360" fill="none" stroke="#163443" stroke-width="3"/>

<!-- right magnifier -->
<line x1="1273" y1="655" x2="1290" y2="672" stroke="#1d3b57" stroke-width="16" stroke-linecap="round"/>
<line x1="1273" y1="655" x2="1290" y2="672" stroke="#cfdce6" stroke-width="11" stroke-linecap="round"/>
<line x1="1290" y1="672" x2="1362" y2="738" stroke="#1d3b57" stroke-width="27" stroke-linecap="round"/>
<line x1="1290" y1="672" x2="1362" y2="738" stroke="#2f9c84" stroke-width="22" stroke-linecap="round"/>
<line x1="1292" y1="666" x2="1360" y2="729" stroke="#7fd6bc" stroke-width="4" stroke-linecap="round"/>
<g clip-path="url(#lensR)">
 <rect x="1150" y="515" width="140" height="140" fill="#eef6f9"/>
 <rect x="1163" y="528" width="38" height="38" fill="#b8e19a"/><rect x="1201" y="528" width="38" height="38" fill="#b8e19a"/><rect x="1239" y="528" width="38" height="38" fill="#8fcbe8"/>
 <rect x="1163" y="566" width="38" height="38" fill="#c2e6a4"/><rect x="1201" y="566" width="38" height="38" fill="#b0dc98"/><rect x="1239" y="566" width="38" height="38" fill="#8fcbe8"/>
 <rect x="1163" y="604" width="38" height="38" fill="#f0cf92"/><rect x="1201" y="604" width="38" height="38" fill="#c2e2a0"/><rect x="1239" y="604" width="38" height="38" fill="#b8e09a"/>
 <rect x="1277" y="528" width="20" height="114" fill="#c8e4b0"/>
 <rect x="1143" y="528" width="20" height="114" fill="#c8e4b0"/>
 <rect x="1163" y="642" width="114" height="20" fill="#a8d0e0"/>
 <use href="#rtree" transform="translate(1220,560) scale(1.25)"/>
 <use href="#rtree" transform="translate(1220,598) scale(1.25)"/>
 <use href="#rtree" transform="translate(1178,560) scale(1.1)"/>
 <g stroke="#3a8a3a" stroke-width="1.8" fill="none"><path d="M1172,600 Q1175,585 1170,576 M1180,600 Q1180,585 1185,575 M1188,600 Q1190,588 1196,580 M1176,600 Q1178,588 1176,580"/></g>
 <g stroke="#ffffff" stroke-width="1.6"><path d="M1245,545 h8 M1260,552 h8 M1248,560 h6 M1245,580 h8 M1260,588 h8 M1248,596 h6"/></g>
 <use href="#wheat" transform="translate(1174,636) scale(1.1)"/><use href="#wheat" transform="translate(1190,636) scale(1.1)"/>
 <use href="#wheat" transform="translate(1212,636) scale(1.1)"/><use href="#wheat" transform="translate(1228,636) scale(1.1)"/>
 <use href="#wheat" transform="translate(1250,636) scale(1.1)"/><use href="#wheat" transform="translate(1266,636) scale(1.1)"/>
 <path d="M1163,528 V642 M1201,528 V642 M1239,528 V642 M1277,528 V642 M1150,528 H1290 M1150,566 H1290 M1150,604 H1290 M1150,642 H1290" stroke="#1d3b57" stroke-width="1.8"/>
</g>
<circle cx="1220" cy="585" r="76" fill="none" stroke="#d5e2ea" stroke-width="14"/>
<circle cx="1220" cy="585" r="83" fill="none" stroke="#1d3b57" stroke-width="2.5"/>
<circle cx="1220" cy="585" r="69" fill="none" stroke="#1d3b57" stroke-width="2.5"/>
<path d="M1178,560 A45,45 0 0 1 1215,528" stroke="#ffffff" stroke-width="5" fill="none" stroke-opacity="0.85" stroke-linecap="round"/>

<!-- badge -->
<g transform="translate(1046,668)">
 <path d="M-10,12 L-18,38 L-10,33 L-6,41 L0,16 Z" fill="#5acd5a" stroke="#237a33" stroke-width="1.3"/>
 <path d="M10,12 L18,38 L10,33 L6,41 L0,16 Z" fill="#5acd5a" stroke="#237a33" stroke-width="1.3"/>
 <path d="M0,-22 L5,-18 L11,-19 L14,-13 L19,-10 L18,-4 L22,1 L18,6 L19,12 L13,14 L10,20 L4,19 L0,23 L-4,19 L-10,20 L-13,14 L-19,12 L-18,6 L-22,1 L-18,-4 L-19,-10 L-14,-13 L-11,-19 L-5,-18 Z" fill="#5acd5a" stroke="#237a33" stroke-width="1.5" stroke-linejoin="round"/>
 <circle r="13" fill="#7fdc78" stroke="#237a33" stroke-width="1.3"/>
 <path d="M-6,0 L-1,5 L7,-5" fill="none" stroke="#ffffff" stroke-width="3" stroke-linecap="round" stroke-linejoin="round"/>
</g>
<path d="M1077,652 v10 M1072,657 h10 M1015,693 v8 M1011,697 h8" stroke="#4dbb5a" stroke-width="1.8"/>
</svg>
</body></html>
